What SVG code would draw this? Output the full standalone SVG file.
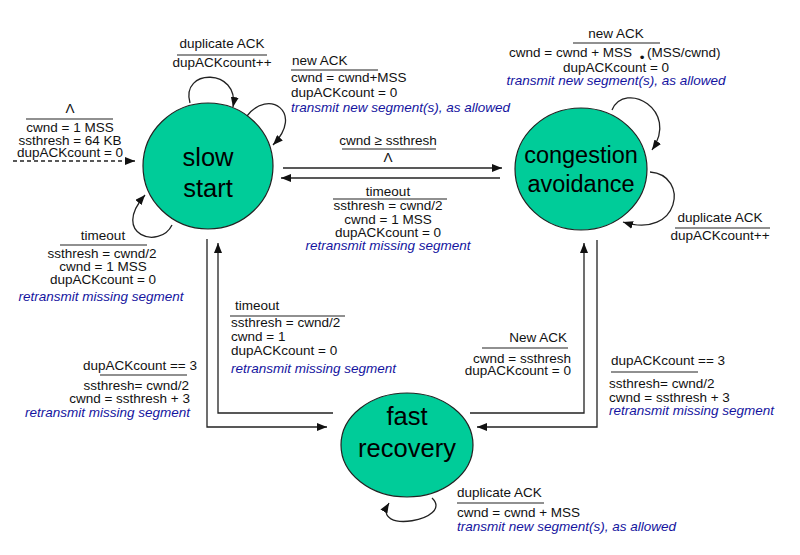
<svg xmlns="http://www.w3.org/2000/svg" width="800" height="555" viewBox="0 0 800 555">
<style>
.t{font-family:"Liberation Sans",Arial,sans-serif;font-size:13.5px;fill:#111}
.b{fill:#1414a0;font-style:italic}
.m{text-anchor:middle}
.e{text-anchor:end}
.n{font-family:"Liberation Sans",Arial,sans-serif;font-size:25.5px;fill:#000;text-anchor:middle}
.st{fill:#00CC99;stroke:#222;stroke-width:1.2}
.c{fill:none;stroke:#222;stroke-width:1.3}
.u{stroke:#222;stroke-width:1.1}
</style>
<defs>
<marker id="ah" markerUnits="userSpaceOnUse" markerWidth="10" markerHeight="8" refX="10" refY="4" orient="auto">
<path d="M0,0 L10,4 L0,8 z" fill="#111"/>
</marker>
</defs>
<rect width="800" height="555" fill="#fff"/>

<g id="slow-start">
<ellipse class="st" cx="208" cy="166" rx="65" ry="63"/>
<text class="n" x="208" y="166">slow</text>
<text class="n" x="208" y="197">start</text>
</g>
<g id="congestion-avoidance">
<ellipse class="st" cx="581" cy="169" rx="66" ry="61"/>
<text class="n" x="581" y="163" style="font-size:23.5px">congestion</text>
<text class="n" x="581" y="192" style="font-size:23.5px">avoidance</text>
</g>
<g id="fast-recovery">
<ellipse class="st" cx="407" cy="445" rx="66" ry="52"/>
<text class="n" x="407" y="425">fast</text>
<text class="n" x="407" y="457">recovery</text>
</g>

<g id="connectors">
<path class="c" d="M13,161 H135" stroke-dasharray="4,3" marker-end="url(#ah)"/>
<path class="c" d="M190,103 C180,68 240,68 233,107" marker-end="url(#ah)"/>
<path class="c" d="M247,116 C268,88 305,112 273,145" marker-end="url(#ah)"/>
<path class="c" d="M172,225 C160,250 110,235 145,195" marker-end="url(#ah)"/>
<path class="c" d="M283,168 H502" marker-end="url(#ah)"/>
<path class="c" d="M500,178 H281" marker-end="url(#ah)"/>
<path class="c" d="M612,110 C625,80 680,110 652,150" marker-end="url(#ah)"/>
<path class="c" d="M650,172 C690,175 680,240 623,222" marker-end="url(#ah)"/>
<path class="c" d="M207,239 V427 H327" marker-end="url(#ah)"/>
<path class="c" d="M333,413 H218 V243" marker-end="url(#ah)"/>
<path class="c" d="M470,413 H584 V243" marker-end="url(#ah)"/>
<path class="c" d="M597,240 V427 H477" marker-end="url(#ah)"/>
<path class="c" d="M432,498 C455,520 370,535 389,503" marker-end="url(#ah)"/>
</g>

<g id="label-init">
<text class="t m" x="70" y="113">Λ</text>
<line class="u" x1="26" y1="119" x2="113" y2="119"/>
<text class="t m" x="70" y="132">cwnd = 1 MSS</text>
<text class="t m" x="70" y="144.5">ssthresh = 64 KB</text>
<text class="t m" x="70" y="157">dupACKcount = 0</text>
</g>
<g id="label-ss-dup">
<text class="t m" x="222" y="48">duplicate ACK</text>
<line class="u" x1="177" y1="55" x2="267" y2="55"/>
<text class="t m" x="222" y="67">dupACKcount++</text>
</g>
<g id="label-ss-new">
<text class="t" x="292" y="65">new ACK</text>
<line class="u" x1="291" y1="70" x2="378" y2="70"/>
<text class="t" x="291" y="82">cwnd = cwnd+MSS</text>
<text class="t" x="291" y="97">dupACKcount = 0</text>
<text class="t b" x="291" y="112">transmit new segment(s), as allowed</text>
</g>
<g id="label-ss-ca">
<text class="t m" x="388" y="145">cwnd ≥ ssthresh</text>
<line class="u" x1="342" y1="149" x2="436" y2="149"/>
<text class="t m" x="388" y="162">Λ</text>
</g>
<g id="label-ca-ss">
<text class="t m" x="388" y="196">timeout</text>
<line class="u" x1="333" y1="199" x2="447" y2="199"/>
<text class="t m" x="388" y="210">ssthresh = cwnd/2</text>
<text class="t m" x="388" y="224">cwnd = 1 MSS</text>
<text class="t m" x="388" y="237">dupACKcount = 0</text>
<text class="t m b" x="388" y="250">retransmit missing segment</text>
</g>
<g id="label-ca-new">
<text class="t m" x="616" y="38">new ACK</text>
<line class="u" x1="573" y1="43" x2="660" y2="43"/>
<text class="t" x="509" y="57">cwnd = cwnd + MSS</text>
<text class="t m" x="642" y="62">•</text>
<text class="t" x="647" y="57">(MSS/cwnd)</text>
<text class="t m" x="616" y="72">dupACKcount = 0</text>
<text class="t m b" x="616" y="85">transmit new segment(s), as allowed</text>
</g>
<g id="label-ca-dup">
<text class="t m" x="720" y="222">duplicate ACK</text>
<line class="u" x1="675" y1="228" x2="770" y2="228"/>
<text class="t m" x="720" y="240">dupACKcount++</text>
</g>
<g id="label-ss-timeout">
<text class="t m" x="103" y="240">timeout</text>
<line class="u" x1="60" y1="245" x2="147" y2="245"/>
<text class="t m" x="102" y="258">ssthresh = cwnd/2</text>
<text class="t m" x="103" y="271">cwnd = 1 MSS</text>
<text class="t m" x="103" y="284">dupACKcount = 0</text>
<text class="t m b" x="101" y="301">retransmit missing segment</text>
</g>
<g id="label-fr-ss">
<text class="t" x="235" y="310">timeout</text>
<line class="u" x1="230" y1="316" x2="345" y2="316"/>
<text class="t" x="231" y="327">ssthresh = cwnd/2</text>
<text class="t" x="231" y="341">cwnd = 1</text>
<text class="t" x="231" y="355">dupACKcount = 0</text>
<text class="t b" x="231" y="373">retransmit missing segment</text>
</g>
<g id="label-ss-fr">
<text class="t e" x="197" y="370">dupACKcount == 3</text>
<line class="u" x1="100" y1="375" x2="187" y2="375"/>
<text class="t e" x="189" y="390">ssthresh= cwnd/2</text>
<text class="t e" x="190" y="403">cwnd = ssthresh + 3</text>
<text class="t e b" x="190" y="417">retransmit missing segment</text>
</g>
<g id="label-fr-ca">
<text class="t e" x="567" y="342">New ACK</text>
<line class="u" x1="482" y1="348" x2="568" y2="348"/>
<text class="t e" x="571" y="363">cwnd = ssthresh</text>
<text class="t e" x="571" y="375">dupACKcount = 0</text>
</g>
<g id="label-ca-fr">
<text class="t" x="611" y="365">dupACKcount == 3</text>
<line class="u" x1="611" y1="372" x2="698" y2="372"/>
<text class="t" x="609" y="388">ssthresh= cwnd/2</text>
<text class="t" x="609" y="402">cwnd = ssthresh + 3</text>
<text class="t b" x="609" y="415">retransmit missing segment</text>
</g>
<g id="label-fr-dup">
<text class="t" x="457" y="497">duplicate ACK</text>
<line class="u" x1="457" y1="503" x2="544" y2="503"/>
<text class="t" x="457" y="517">cwnd = cwnd + MSS</text>
<text class="t b" x="457" y="531">transmit new segment(s), as allowed</text>
</g>
</svg>
